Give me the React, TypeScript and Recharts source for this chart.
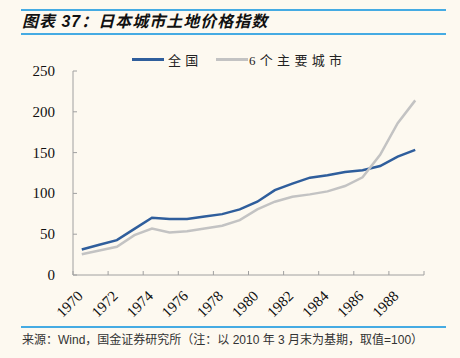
import React from 'react';
import { LineChart, Line, XAxis, YAxis } from 'recharts';

// 1970 - 1989
const years = [
  '1970', '1971', '1972', '1973', '1974', '1975', '1976', '1977', '1978', '1979',
  '1980', '1981', '1982', '1983', '1984', '1985', '1986', '1987', '1988', '1989',
];
const nationalIndex = [
  31.2, 37, 42.7, 56.5, 70.1, 68.5, 68.5, 71.8, 74.6, 80.4,
  89.8, 104, 111.9, 119.3, 122.2, 126.3, 128.3, 133.6, 145.1, 153.3,
];
const majorCitiesIndex = [
  25.4, 30, 34.5, 48.8, 57, 52.1, 53.7, 57, 60.3, 67.3,
  80.4, 89.8, 95.9, 98.8, 102.5, 109, 119.7, 147.2, 186, 214,
];
const xLabels = ['1970', '1972', '1974', '1976', '1978', '1980', '1982', '1984', '1986', '1988'];
const yTicks = [0, 50, 100, 150, 200, 250];
const seriesNames = ['全国', '6个主要城市'];

const BG = '#FDF9F0';
const BLUE = '#2F5E9C';
const GRAY = '#C3C3C3';
const RULE = '#45ABE3';
const AXIS = '#A0A0A0';
const SERIF = 'Liberation Serif, Times New Roman, serif';

const chartData = years.map((year, i) => ({
  idx: i,
  year,
  national: nationalIndex[i],
  major: majorCitiesIndex[i],
}));

// tick lines sit on the category boundaries, every two years
const tickStops = Array.from({ length: xLabels.length + 1 }, (_, k) => 2 * k - 0.5);

const margin = { top: 71, right: 36, left: 0, bottom: 23 };
const yAxisWidth = 73;
const plotWidth = 460 - margin.left - margin.right - yAxisWidth;
const halfBand = plotWidth / years.length / 2;

const YearTick = (props: any) => {
  const { x, y, payload } = props;
  const label = xLabels[(payload.value + 0.5) / 2];
  if (!label) return null;
  const ax = x + halfBand + 2;
  const ay = y + 26;
  return (
    <text
      x={ax}
      y={ay}
      textAnchor="end"
      fontFamily={SERIF}
      fontSize={15}
      fill="#111"
      transform={`rotate(-45, ${ax}, ${ay})`}
    >
      {label}
    </text>
  );
};

const ValueTick = (props: any) => {
  const { x, y, payload } = props;
  return (
    <text x={x} y={y} dy={5} textAnchor="end" fontFamily={SERIF} fontSize={15} fill="#111">
      {payload.value}
    </text>
  );
};

const App: React.FC = () => {
  return (
    <div style={{ position: 'absolute', left: 0, top: 0, width: 460, height: 358, background: BG, overflow: 'hidden' }}>
      <style>{'body{margin:0}'}</style>

      <div style={{ position: 'absolute', left: 21, top: 9, width: 425, height: 2, background: RULE }} />
      <div
        style={{
          position: 'absolute', left: 22, top: 10, height: 24, lineHeight: '24px',
          fontSize: 16, fontWeight: 'bold', fontStyle: 'italic', letterSpacing: 1,
          fontFamily: "'Liberation Sans', 'Noto Sans CJK SC', sans-serif", color: '#111', whiteSpace: 'nowrap',
        }}
      >
        图表 37：日本城市土地价格指数
      </div>
      <div style={{ position: 'absolute', left: 21, top: 33, width: 425, height: 2, background: RULE }} />

      {/* legend */}
      <div style={{ position: 'absolute', left: 0, top: 49, width: 460, height: 20 }}>
        {seriesNames.map((name, i) => (
          <div key={name} style={{ position: 'absolute', left: i === 0 ? 132 : 216, top: 0, display: 'flex', alignItems: 'center', height: 20 }}>
            <div style={{ width: 32, height: 3, background: i === 0 ? BLUE : GRAY }} />
            <span
              style={{
                marginLeft: i === 0 ? 4 : 1, fontSize: 13, letterSpacing: 4.3, color: '#222',
                fontFamily: 'Liberation Serif, Noto Sans CJK SC, serif', whiteSpace: 'nowrap',
              }}
            >
              {name}
            </span>
          </div>
        ))}
      </div>

      <div style={{ position: 'absolute', left: 0, top: 0 }}>
        <LineChart width={460} height={358} data={chartData} margin={margin}>
          <XAxis
            dataKey="idx"
            type="number"
            domain={[-0.5, 19.5]}
            ticks={tickStops}
            interval={0}
            height={60}
            stroke={AXIS}
            tickSize={-4}
            tickMargin={0}
            tick={<YearTick />}
          />
          <YAxis
            domain={[0, 250]}
            ticks={yTicks}
            interval={0}
            width={yAxisWidth}
            stroke={AXIS}
            tickSize={-4}
            tickMargin={22}
            tick={<ValueTick />}
          />
          <Line
            type="linear"
            dataKey="national"
            name={seriesNames[0]}
            stroke={BLUE}
            strokeWidth={2.5}
            dot={false}
            isAnimationActive={false}
          />
          <Line
            type="linear"
            dataKey="major"
            name={seriesNames[1]}
            stroke={GRAY}
            strokeWidth={2.5}
            dot={false}
            isAnimationActive={false}
          />
        </LineChart>
      </div>

      <div style={{ position: 'absolute', left: 21, top: 326, width: 425, height: 2, background: RULE }} />
      <div
        style={{
          position: 'absolute', left: 22, top: 332, height: 16, lineHeight: '16px', fontSize: 12, color: '#333',
          fontFamily: "'Liberation Sans', 'Noto Sans CJK SC', sans-serif", whiteSpace: 'nowrap',
        }}
      >
        来源：Wind，国金证券研究所（注：以 2010 年 3 月末为基期，取值=100）
      </div>
    </div>
  );
};

export default App;
